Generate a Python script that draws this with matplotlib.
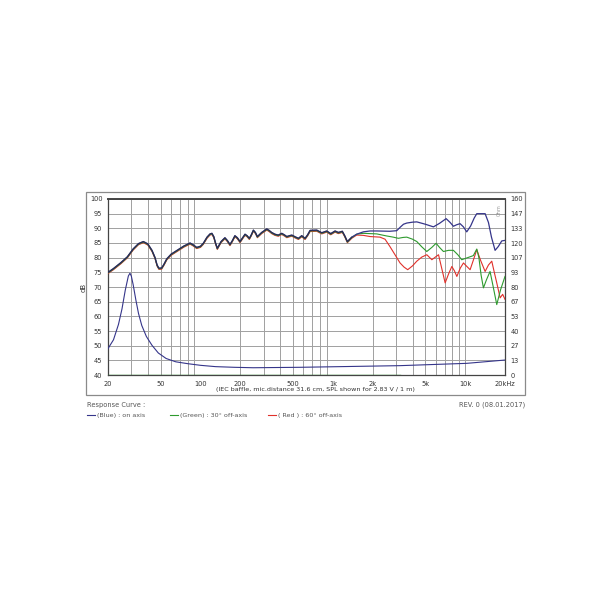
import numpy as np
import matplotlib
matplotlib.use("Agg")
import matplotlib.pyplot as plt
from matplotlib.patches import Rectangle
from matplotlib.lines import Line2D

# frequency response, on axis (Blue)
freq_blue = [20, 22, 25, 28, 31, 34, 37, 40, 43, 45.3, 47, 48.5, 50.9, 53, 55.6, 60, 66, 75,
             83.4, 88, 93.6, 100, 105, 112, 118, 122, 126, 130, 134, 143, 153, 160, 167,
             174, 182, 190, 199, 208, 217, 225, 234, 242, 251, 260, 269, 290, 317, 330,
             345, 365, 387, 411, 430, 449, 470, 490, 520, 550, 582, 617, 645, 673, 756,
             825, 900, 964, 1040, 1100, 1180, 1230, 1288, 1390, 1514, 1700, 1910, 2148,
             2700, 3040, 3250, 3420, 3620, 4000, 4310, 5000, 5760, 6400, 7180, 7700, 8150,
             8600, 9150, 9700, 10280, 11000, 11700, 12240, 13300, 14150, 15000, 15800,
             16830, 17800, 18900, 20000]
spl_blue = [75, 76.3, 78.3, 80.3, 83, 84.8, 85.5, 84.7, 82.5, 80.1, 77.5, 76.4, 76.5, 77.8,
            79.6, 81.2, 82.4, 84, 85, 84.4, 83.5, 83.9, 84.9, 87, 88.1, 88.3, 87.2, 85,
            83.2, 85.5, 86.8, 85.8, 84.5, 85.8, 87.5, 86.8, 85.5, 86.8, 88, 87.5, 86.6,
            87.8, 89.4, 88.6, 87.2, 88.6, 89.8, 89.3, 88.6, 88, 87.7, 88.3, 87.8, 87.2,
            87.5, 87.7, 87.1, 86.6, 87.5, 86.6, 87.8, 89.3, 89.4, 88.5, 89.1, 88.2, 89.1,
            88.6, 89, 87.5, 85.5, 87, 88, 88.8, 89.1, 89.1, 89, 89.2, 90.5, 91.4, 91.8,
            92.1, 92.2, 91.4, 90.5, 91.7, 93.3, 92, 90.7, 91.2, 91.6, 90.5, 88.8, 90.8,
            93.5, 95, 95, 95, 92, 87, 82.5, 83.8, 85.7, 85.9]

# 30 deg off-axis (Green) above 1.5 kHz; below that it lies on the blue curve
freq_green = [1514, 1700, 2148, 2550, 2860, 3125, 3400, 3620, 4000, 4310, 4700, 5130, 5600,
              6030, 6400, 6850, 7500, 8150, 8800, 9420, 10280, 11530, 12240, 12700, 13200,
              13740, 14500, 15420, 16300, 17330, 18500, 20000]
spl_green = [88, 88.3, 88.1, 87.4, 87, 86.6, 86.9, 87, 86.3, 85.5, 83.7, 82.1, 83.5,
             84.9, 83.5, 82.1, 82.5, 82.5, 81, 79.3, 79.9, 80.7, 82.95, 80, 74,
             69.7, 72.5, 75.3, 70, 64, 69, 73.6]

# 60 deg off-axis (Red) above 1.5 kHz; below that it lies on the blue curve
freq_red = [1514, 1700, 1910, 2270, 2480, 2700, 2950, 3220, 3450, 3680, 4000, 4310, 4700,
            5130, 5600, 6290, 6600, 7060, 7500, 7930, 8300, 8650, 9200, 9710, 10300, 10900,
            11600, 12240, 13100, 14150, 15000, 15890, 16600, 17330, 18370, 19200, 20000]
spl_red = [87.7, 87.6, 87.2, 87, 86.3, 83.8, 81, 78.2, 76.8, 75.9, 77.2, 78.8, 80.2,
           81, 79.3, 81, 77, 71.4, 74.5, 77, 75.5, 73.6, 76.5, 78.2, 77, 75.9,
           79.5, 82.7, 79, 75.3, 77.5, 78.8, 75, 71.4, 66.3, 67.5, 65.8]

# impedance (right axis units)
freq_imp = [20, 22, 24, 25.5, 27, 28.5, 29.3, 30, 31, 32.5, 34, 36, 39, 43, 48, 55, 65, 80,
            100, 130, 180, 250, 565, 3220, 10280, 20000]
imp = [24, 32, 46, 60, 77, 90, 92.5, 90, 82, 68, 56, 45, 35, 27, 20, 15, 12, 10.3,
       8.8, 7.6, 7, 6.6, 7, 8.5, 10.6, 13.6]

x_ticks = [20, 50, 100, 200, 500, 1000, 2000, 5000, 10000, 20000]
x_labels = ["20", "50", "100", "200", "500", "1k", "2k", "5k", "10k", "20kHz"]
db_ticks = list(range(40, 101, 5))
ohm_labels = ["0", "13", "27", "40", "53", "67", "80", "93", "107", "120", "133", "147", "160"]

c_blue = "#35358a"
c_green = "#2e9a2e"
c_red = "#e0312b"
c_text = "#333333"

W = H = 610
fig = plt.figure(figsize=(6.1, 6.1), dpi=100)
fig.patch.set_facecolor("white")

def fx(px):
    return px / W

def fy(py):
    return 1 - py / H

# outer frame
fig.patches.append(Rectangle((fx(86), fy(395)), fx(525) - fx(86), fy(192) - fy(395),
                             transform=fig.transFigure, fill=False,
                             edgecolor="#8a8a8a", linewidth=0.9))

ax = fig.add_axes([fx(108), fy(375), fx(505) - fx(108), fy(199) - fy(375)])
ax.set_xscale("log")
ax.set_xlim(20, 20000)
ax.set_ylim(40, 100)

# grid
minor = [f * d for d in (10, 100, 1000) for f in range(2, 10)] + [10000, 20000]
for f in minor:
    if 20 <= f <= 20000:
        ax.axvline(f, color="#a0a0a0", lw=0.7, zorder=1)
for d in db_ticks:
    ax.axhline(d, color="#a0a0a0", lw=0.7, zorder=1)

# impedance on the right scale, mapped 0..160 -> 40..100
imp_db = [40 + v * 60 / 160 for v in imp]
ax.plot(freq_imp, imp_db, color=c_blue, lw=0.8, zorder=3)
ax.plot([20, 3200], [40.15, 40.15], color=c_green, lw=1.0, zorder=3)

# below 1.5 kHz the off-axis curves follow the on-axis one
low = [i for i, f in enumerate(freq_blue) if f < 1514]
ax.plot([freq_blue[i] for i in low] + freq_red,
        [spl_blue[i] - 0.4 for i in low] + spl_red, color=c_red, lw=0.8, zorder=3)
ax.plot([freq_blue[i] for i in low] + freq_green,
        [spl_blue[i] - 0.2 for i in low] + spl_green, color=c_green, lw=0.8, zorder=4)
ax.plot(freq_blue, spl_blue, color=c_blue, lw=0.9, zorder=5)
ax.plot([freq_blue[i] for i in low], [spl_blue[i] for i in low],
        color="#222233", lw=0.9, alpha=0.6, zorder=6)

ax.set_xticks(x_ticks)
ax.set_xticklabels(x_labels)
ax.xaxis.set_minor_locator(matplotlib.ticker.NullLocator())
ax.set_yticks(db_ticks)
ax.tick_params(axis="both", length=0, labelsize=4.8, colors=c_text, pad=4)
ax.set_ylabel("dB", fontsize=5, color=c_text, labelpad=2)

for s in ax.spines.values():
    s.set_color("#444444")
    s.set_linewidth(0.9)
ax.spines["top"].set_linewidth(1.4)

ax2 = ax.twinx()
ax2.set_ylim(0, 160)
ax2.set_yticks([160 * i / 12 for i in range(13)])
ax2.set_yticklabels(ohm_labels)
ax2.tick_params(axis="y", length=0, labelsize=4.8, colors=c_text, pad=4)
for s in ax2.spines.values():
    s.set_visible(False)
ax.text(0.992, 0.97, "Ohm", transform=ax.transAxes, rotation=90, fontsize=3.5,
        color="#999999", ha="right", va="top")

fig.text(fx(315), fy(390), "(IEC baffle, mic.distance 31.6 cm, SPL shown for 2.83 V / 1 m)",
         fontsize=4.6, color=c_text, ha="center", va="center")

# footer
fig.text(fx(87), fy(405), "Response Curve :", fontsize=4.8, color="#555555", va="center")
fig.text(fx(525), fy(405), "REV. 0 (08.01.2017)", fontsize=4.8, color="#555555",
         va="center", ha="right")
legend_items = [(87, c_blue, "(Blue) : on axis"),
                (170, c_green, "(Green) : 30\u00b0 off-axis"),
                (268, c_red, "( Red ) : 60\u00b0 off-axis")]
for x0, col, label in legend_items:
    fig.lines.append(Line2D([fx(x0), fx(x0 + 8)], [fy(415), fy(415)],
                            transform=fig.transFigure, color=col, lw=0.8))
    fig.text(fx(x0 + 10), fy(415), label, fontsize=4.6, color="#555555", va="center")

fig.savefig("out.png", dpi=100, facecolor="white")
